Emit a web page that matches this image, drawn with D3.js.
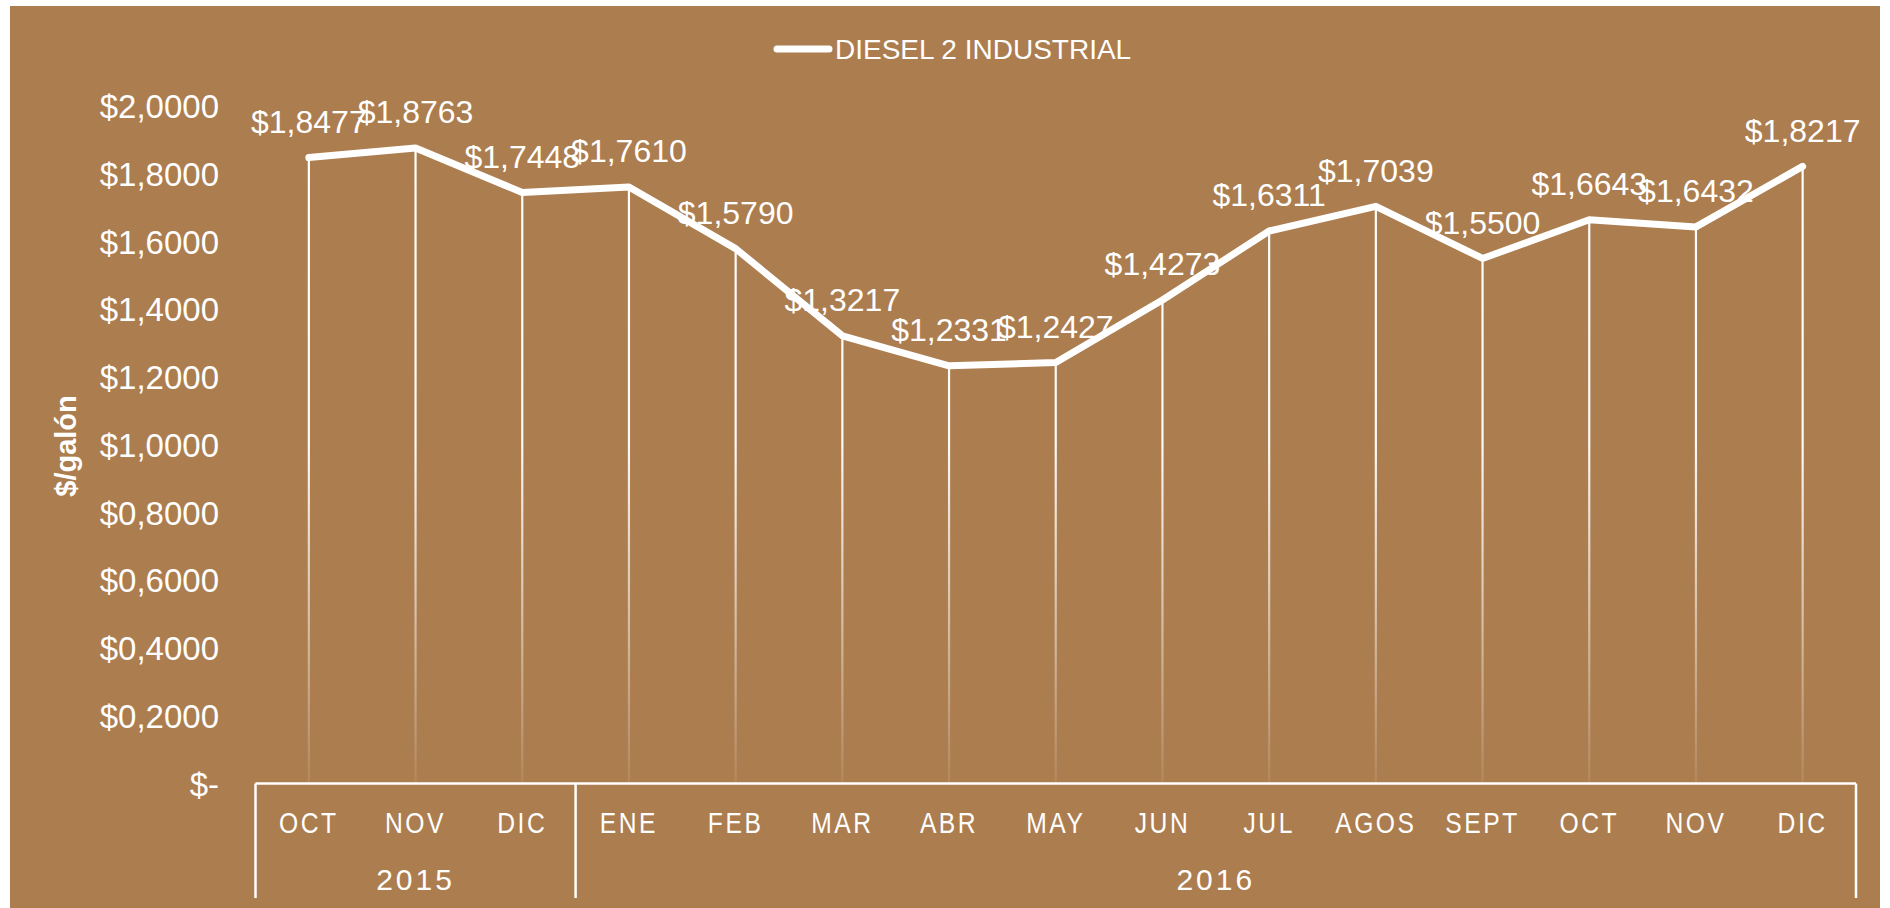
<!DOCTYPE html>
<html>
<head>
<meta charset="utf-8">
<script src="https://cdn.jsdelivr.net/npm/d3@7"></script>
<style>
  html, body { margin: 0; padding: 0; background: #ffffff; }
  svg { display: block; }
  text { font-family: "Liberation Sans", Arial, sans-serif; fill: #ffffff; }
</style>
</head>
<body>
<svg id="chart" width="1890" height="908"></svg>
<script>
// ---- data ----
const months = ["OCT","NOV","DIC","ENE","FEB","MAR","ABR","MAY","JUN","JUL","AGOS","SEPT","OCT","NOV","DIC"];
const years = ["2015","2015","2015","2016","2016","2016","2016","2016","2016","2016","2016","2016","2016","2016","2016"];
const values = [1.8477,1.8763,1.7448,1.7610,1.5790,1.3217,1.2331,1.2427,1.4273,1.6311,1.7039,1.5500,1.6643,1.6432,1.8217];
const yTicks = [0,0.2,0.4,0.6,0.8,1.0,1.2,1.4,1.6,1.8,2.0];
const seriesName = "DIESEL 2 INDUSTRIAL";
const yTitle = "$/galón";

// ---- layout ----
const W = 1890, H = 908;
const bg = "#ac7d4f";
const plot = { left: 255.5, right: 1856, top: 106, bottom: 783.6 };

const svg = d3.select("#chart");
svg.append("rect").attr("x", 10).attr("y", 6).attr("width", 1870).attr("height", H - 6).attr("fill", bg);

const loc = d3.formatLocale({ decimal: ",", thousands: ".", grouping: [3], currency: ["$", ""] });
const f4 = loc.format("$.4f");
const fmt = v => v === 0 ? "$-" : f4(v);

const keys = months.map((m, i) => i);
const x = d3.scaleBand().domain(keys).range([plot.left, plot.right]).padding(0);
const y = d3.scaleLinear().domain([0, 2]).range([plot.bottom, plot.top]);
const cx = i => x(i) + x.bandwidth() / 2;

// gradient for drop lines
const defs = svg.append("defs");
const grad = defs.append("linearGradient").attr("id", "dropGrad")
  .attr("gradientUnits", "userSpaceOnUse")
  .attr("x1", 0).attr("x2", 0).attr("y1", plot.top).attr("y2", plot.bottom);
grad.append("stop").attr("offset", "0").attr("stop-color", "#fff").attr("stop-opacity", 1);
grad.append("stop").attr("offset", "0.5").attr("stop-color", "#fff").attr("stop-opacity", 0.95);
grad.append("stop").attr("offset", "1").attr("stop-color", "#fff").attr("stop-opacity", 0.08);

// y axis labels
const yAxis = d3.axisLeft(y).tickValues(yTicks).tickFormat(fmt).tickSize(0).tickPadding(0);
const gy = svg.append("g").attr("transform", "translate(219,0)").call(yAxis);
gy.select(".domain").remove();
gy.selectAll("text").attr("font-size", 33).attr("fill", "#fff")
  .attr("font-family", "'Liberation Sans', Arial, sans-serif").attr("dy", "0.35em");

// y title
svg.append("text").attr("transform", "translate(66,446) rotate(-90)")
  .attr("text-anchor", "middle").attr("dy", "0.35em")
  .attr("font-size", 29).attr("font-weight", "bold").text(yTitle);

// drop lines
svg.append("g").selectAll("line").data(values).join("line")
  .attr("x1", (d, i) => cx(i)).attr("x2", (d, i) => cx(i))
  .attr("y1", d => y(d)).attr("y2", y(0))
  .attr("stroke", "url(#dropGrad)").attr("stroke-width", 2.2);

// main line
const line = d3.line().x((d, i) => cx(i)).y(d => y(d));
svg.append("path").datum(values).attr("d", line)
  .attr("fill", "none").attr("stroke", "#fff").attr("stroke-width", 7)
  .attr("stroke-linejoin", "round").attr("stroke-linecap", "round");

// data labels
svg.append("g").selectAll("text").data(values).join("text")
  .attr("x", (d, i) => cx(i)).attr("y", d => y(d) - 36)
  .attr("dy", "0.35em").attr("text-anchor", "middle")
  .attr("font-size", 32).text(d => fmt(d));

// category axis
const ax = svg.append("g").attr("stroke", "#fff").attr("stroke-width", 2.5);
ax.append("line").attr("x1", plot.left).attr("x2", plot.right).attr("y1", y(0)).attr("y2", y(0));
const groups = [];
years.forEach((yr, i) => {
  if (!groups.length || groups[groups.length - 1].name !== yr) groups.push({ name: yr, start: i, end: i });
  else groups[groups.length - 1].end = i;
});
const bounds = [x(0)].concat(groups.map(g => x(g.end) + x.bandwidth()));
ax.selectAll(".sep").data(bounds).join("line")
  .attr("x1", d => d).attr("x2", d => d).attr("y1", y(0)).attr("y2", 898);

// month labels
svg.append("g").selectAll("text").data(months).join("text")
  .attr("transform", (d, i) => `translate(${cx(i)},823) scale(0.85,1)`)
  .attr("text-anchor", "middle").attr("dy", "0.35em")
  .attr("font-size", 29).attr("letter-spacing", 3).text(d => d);

// year labels
svg.append("g").selectAll("text").data(groups).join("text")
  .attr("x", g => (x(g.start) + x(g.end) + x.bandwidth()) / 2).attr("y", 879)
  .attr("text-anchor", "middle").attr("dy", "0.35em")
  .attr("font-size", 30).attr("letter-spacing", 3).text(g => g.name);

// legend
svg.append("line").attr("x1", 777).attr("x2", 829).attr("y1", 49).attr("y2", 49)
  .attr("stroke", "#fff").attr("stroke-width", 7).attr("stroke-linecap", "round");
svg.append("text").attr("x", 835).attr("y", 49).attr("dy", "0.35em")
  .attr("font-size", 28).text(seriesName);
</script>
</body>
</html>
